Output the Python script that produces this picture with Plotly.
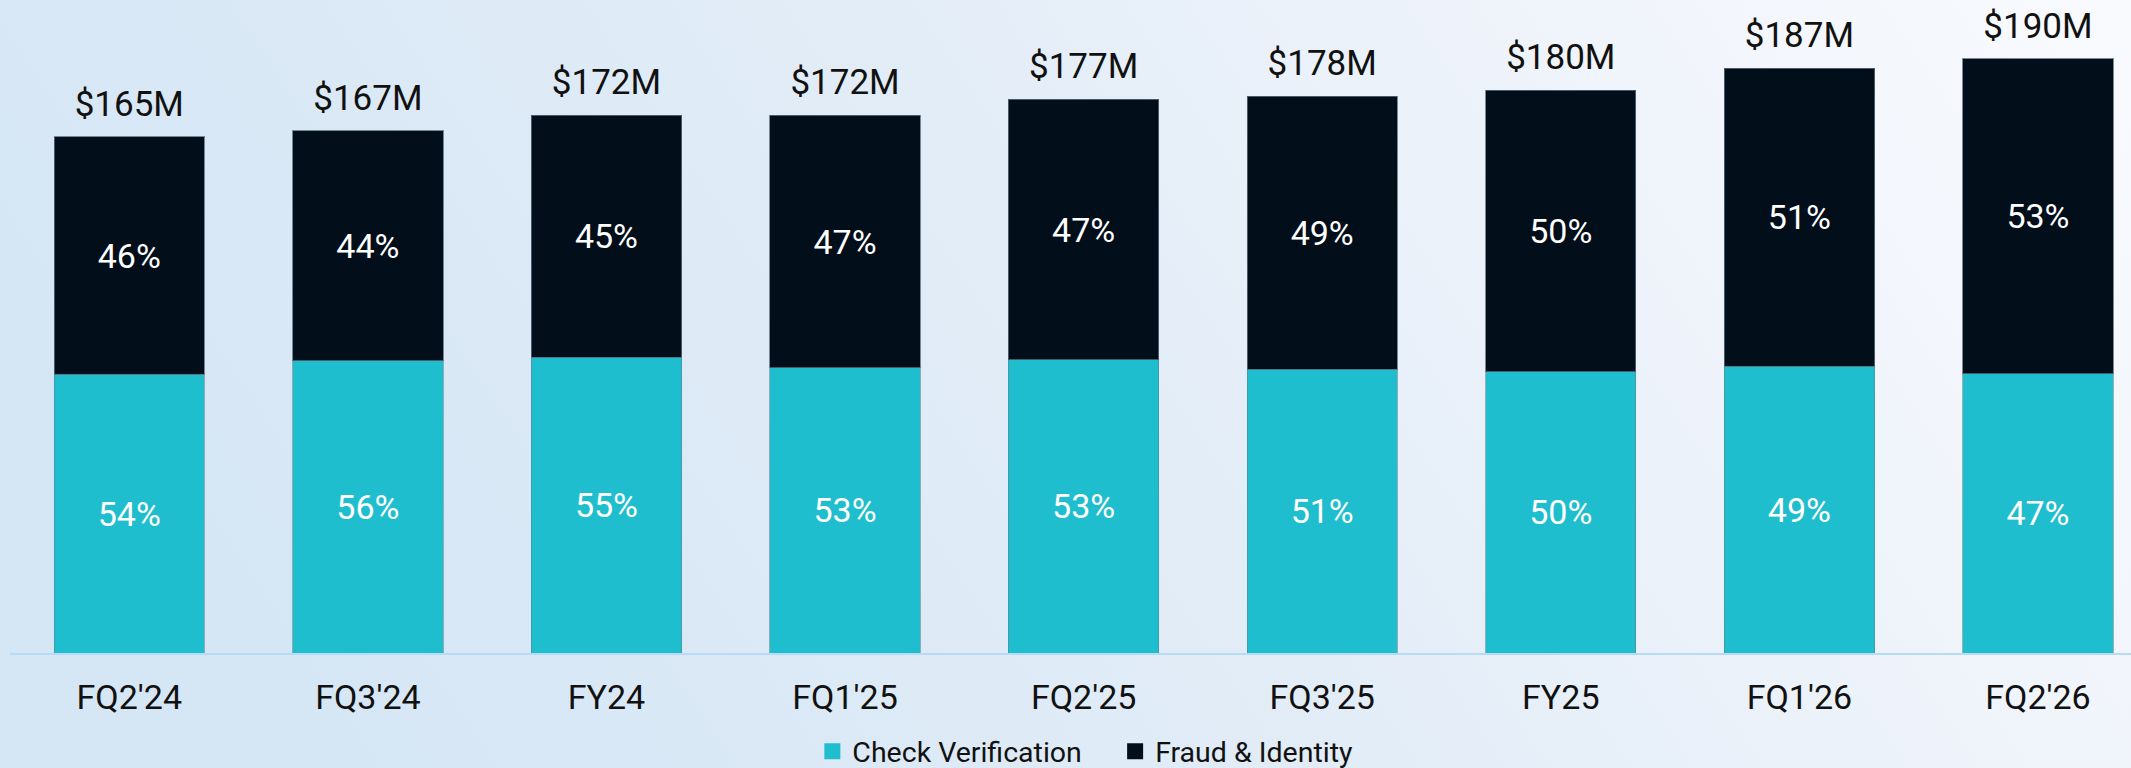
import base64
import plotly.graph_objects as go

categories = ["FQ2'24", "FQ3'24", "FY24", "FQ1'25", "FQ2'25", "FQ3'25", "FY25", "FQ1'26", "FQ2'26"]
totals = [165, 167, 172, 172, 177, 178, 180, 187, 190]
check_pct = [54, 56, 55, 53, 53, 51, 50, 49, 47]
fraud_pct = [46, 44, 45, 47, 47, 49, 50, 51, 53]
series_names = ["Check Verification", "Fraud & Identity"]

TEAL = "#1fbece"
DARK = "#020e19"
FONT = "Roboto"

check_vals = [t * p / 100 for t, p in zip(totals, check_pct)]
fraud_vals = [t - c for t, c in zip(totals, check_vals)]

svg = (
    '<svg xmlns="http://www.w3.org/2000/svg" width="2200" height="800" viewBox="0 0 2200 800" preserveAspectRatio="none">'
    '<defs><linearGradient id="g" x1="0" y1="0.25" x2="1" y2="0" >'
    '<stop offset="0" stop-color="#d5e6f5"/>'
    '<stop offset="0.4" stop-color="#e1ecf7"/>'
    '<stop offset="0.8" stop-color="#f3f6fc"/>'
    '<stop offset="1" stop-color="#f9fbfe"/>'
    '</linearGradient></defs>'
    '<rect width="2200" height="800" fill="url(#g)"/></svg>'
)
src = "data:image/svg+xml;base64," + base64.b64encode(svg.encode()).decode()

fig = go.Figure()
fig.add_trace(go.Bar(
    x=categories, y=check_vals, name=series_names[0], showlegend=False,
    marker=dict(color=TEAL, line=dict(color="rgba(90,130,150,0.6)", width=1)),
    width=0.63,
    text=[f"{p}%" for p in check_pct], textposition="inside", insidetextanchor="middle",
    textangle=0, textfont=dict(family=FONT, size=34, color="white"),
    hoverinfo="skip",
))
fig.add_trace(go.Bar(
    x=categories, y=fraud_vals, name=series_names[1], showlegend=False,
    marker=dict(color=DARK, line=dict(color="rgba(90,110,125,0.8)", width=1)),
    width=0.63,
    text=[f"{p}%" for p in fraud_pct], textposition="inside", insidetextanchor="middle",
    textangle=0, textfont=dict(family=FONT, size=34, color="white"),
    hoverinfo="skip",
))
fig.add_trace(go.Scatter(
    x=categories, y=totals, mode="markers+text",
    marker=dict(size=18, color="rgba(0,0,0,0)"),
    text=[f"${t}M" for t in totals], textposition="top center",
    textfont=dict(family=FONT, size=35, color="#111111"),
    showlegend=False, hoverinfo="skip",
))
# legend entries
for nm, col, pad in zip(series_names, [TEAL, DARK], ["\u00a0" * 4, ""]):
    fig.add_trace(go.Scatter(
        x=[None], y=[None], mode="markers", name=nm + pad,
        marker=dict(symbol="square", size=16, color=col),
        showlegend=True,
    ))

fig.update_layout(
    width=2131, height=768,
    barmode="stack",
    margin=dict(l=10, r=0, t=0, b=115, autoexpand=False),
    paper_bgcolor="#e3edf8",
    plot_bgcolor="rgba(0,0,0,0)",
    font=dict(family=FONT, color="#111111"),
    showlegend=True,
    legend=dict(
        orientation="h", x=0.507, xanchor="center", y=-0.151, yanchor="middle",
        font=dict(family=FONT, size=28.5, color="#111111"),
        bgcolor="rgba(0,0,0,0)", traceorder="normal",
        itemwidth=30,
    ),
    images=[dict(
        source=src, xref="paper", yref="paper",
        x=-0.03, y=1.03, sizex=1.06, sizey=1.3,
        xanchor="left", yanchor="top", sizing="stretch", layer="below",
    )],
    xaxis=dict(
        range=[-0.5, 8.39],
        showline=True, linecolor="#b5dbf6", linewidth=2,
        showgrid=False, zeroline=False,
        ticks="outside", ticklen=13, tickcolor="rgba(0,0,0,0)",
        tickfont=dict(family=FONT, size=34, color="#111111"),
    ),
    yaxis=dict(
        range=[0, 208.8], visible=False, showgrid=False, zeroline=False,
    ),
)

fig.write_html(
    "out.html",
    config={"displayModeBar": False},
    post_script="document.body.style.margin='0';document.body.style.overflow='hidden';",
)
